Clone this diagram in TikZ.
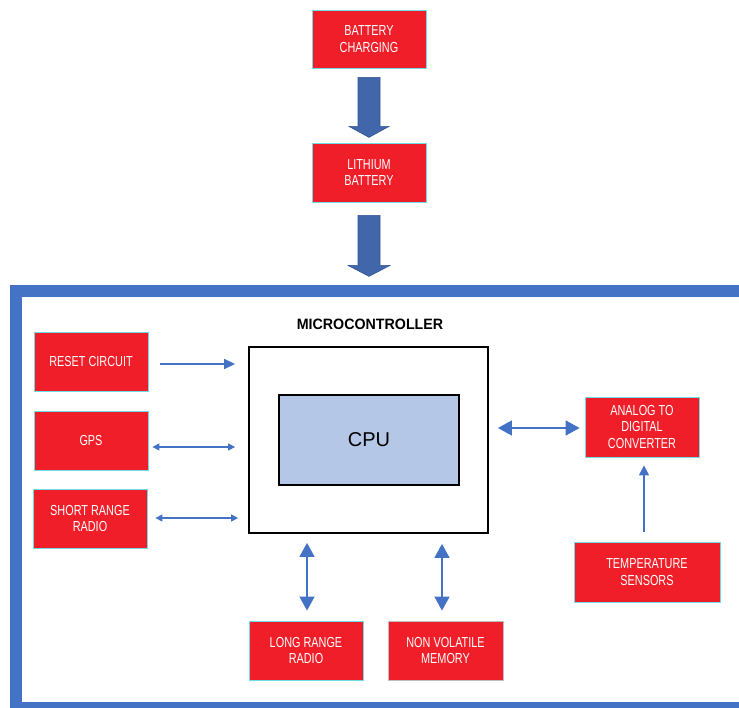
\documentclass[tikz,border=0pt]{standalone}
\usepackage{fontspec}
\setmainfont{Liberation Sans}
\newfontfamily\boxfont{Liberation Sans}[FakeStretch=0.75]
\newfontfamily\titlefont{Liberation Sans}[FakeStretch=0.95]
\usetikzlibrary{arrows.meta,calc}
\definecolor{boxred}{RGB}{240,30,40}
\definecolor{cyanb}{RGB}{110,220,230}
\definecolor{greyb}{RGB}{190,190,190}
\definecolor{frameblue}{RGB}{68,114,196}
\definecolor{arrowblue}{RGB}{65,103,170}
\definecolor{arrowedge}{RGB}{50,85,150}
\definecolor{cpublue}{RGB}{180,199,231}
\begin{document}
\begin{tikzpicture}[x=1pt,y=-1pt,
  redbox/.style={draw=cyanb, line width=0.8pt, fill=boxred, text=white, align=center,
    font=\boxfont\fontsize{14.5}{16.8}\selectfont, minimum width=114pt, minimum height=59pt, inner sep=0pt},
  conn/.style={draw=frameblue, line width=1.4pt},
  smallhead/.style={conn, {Triangle[length=7pt,width=7pt]}-{Triangle[length=7pt,width=7pt]}},
  bighead/.style={conn, {Triangle[length=14pt,width=15pt]}-{Triangle[length=14pt,width=15pt]}},
  onehead/.style={conn, -{Triangle[length=11pt,width=10pt]}},
  bigarrow/.style={fill=arrowblue, draw=arrowedge, line width=0.6pt}
]
\useasboundingbox (0,0) rectangle (739,708);
\begin{scope}
\clip (0,0) rectangle (739,708);
\draw[frameblue, line width=12pt] (16,291) rectangle (745,708);
\end{scope}

% top chain
\node[redbox, minimum height=58pt] (bc) at (369,39) {BATTERY\\CHARGING};
\node[redbox] (lb) at (369,172.5) {LITHIUM\\BATTERY};

\fill[bigarrow] ($(bc.south)+(-11,9)$) -- ($(bc.south)+(-11,58)$) -- ($(bc.south)+(-20,58)$)
  -- ($(bc.south)+(0,69)$) -- ($(bc.south)+(20,58)$) -- ($(bc.south)+(11,58)$)
  -- ($(bc.south)+(11,9)$) -- cycle;
\draw[bigarrow] ($(lb.south)+(-11,13)$) -- ($(lb.south)+(-11,63)$) -- ($(lb.south)+(-21,63)$)
  -- ($(lb.south)+(0,74)$) -- ($(lb.south)+(21,63)$) -- ($(lb.south)+(11,63)$)
  -- ($(lb.south)+(11,13)$) -- cycle;

% microcontroller
\node[font=\titlefont\bfseries\fontsize{15}{17}\selectfont] (mctitle) at (370,324) {MICROCONTROLLER};
\node[draw=black, line width=1.8pt, minimum width=239pt, minimum height=186pt, inner sep=0pt] (mc) at (368.5,440) {};
\node[draw=black, line width=1.4pt, fill=cpublue, minimum width=180pt, minimum height=90pt,
  inner sep=0pt, font=\fontsize{20}{24}\selectfont] (cpu) at (369,440) {CPU};

% peripherals
\node[redbox] (reset) at (91,361.5) {RESET CIRCUIT};
\node[redbox] (gps) at (91,440.5) {GPS};
\node[redbox] (srr) at (90,518.5) {SHORT RANGE\\RADIO};
\node[redbox, minimum height=60pt] (adc) at (642,427) {ANALOG TO\\DIGITAL\\CONVERTER};
\node[redbox, minimum width=146pt, minimum height=60pt] (temp) at (647,572) {TEMPERATURE\\SENSORS};
\node[redbox] (lrr) at (306,650.5) {LONG RANGE\\RADIO};
\node[redbox, draw=greyb, minimum width=115pt] (nvm) at (445.5,650.5) {NON VOLATILE\\MEMORY};

% connectors
\draw[onehead, shorten <=12pt, shorten >=13pt] ($(reset.east)+(0,2.5)$) -- ($(mc.west |- reset.east)+(0,2.5)$);
\draw[smallhead, shorten <=4pt, shorten >=13pt] ($(gps.east)+(0,6.5)$) -- ($(mc.west |- gps.east)+(0,6.5)$);
\draw[smallhead, shorten <=8pt, shorten >=10pt] ($(srr.east)+(0,-0.5)$) -- ($(mc.west |- srr.east)+(0,-0.5)$);
\draw[bighead, shorten <=9pt, shorten >=5pt] ($(mc.east |- adc.west)+(0,1)$) -- ($(adc.west)+(0,1)$);
\draw[conn, -{Triangle[length=10pt,width=10pt]}, shorten <=10pt, shorten >=8pt] ($(temp.north)+(-3,0)$) -- ($(adc.south)+(2,0)$);
\draw[bighead, shorten <=9pt, shorten >=10pt] ($(mc.south -| lrr.north)+(1,0)$) -- ($(lrr.north)+(1,0)$);
\draw[bighead, shorten <=10pt, shorten >=10pt] ($(mc.south -| nvm.north)+(-3.5,0)$) -- ($(nvm.north)+(-3.5,0)$);
\end{tikzpicture}
\end{document}
